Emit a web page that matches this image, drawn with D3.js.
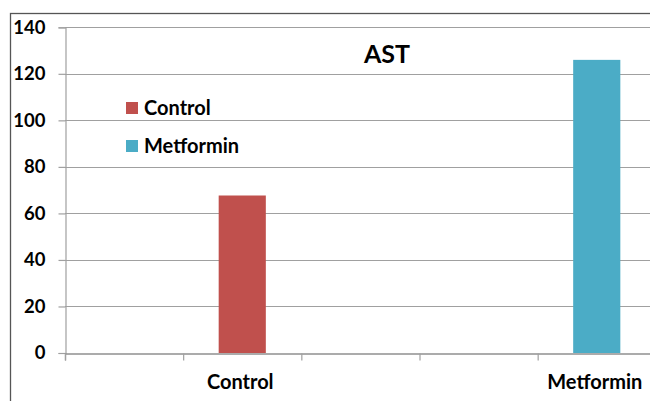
<!DOCTYPE html>
<html>
<head>
<meta charset="utf-8">
<script src="https://cdn.jsdelivr.net/npm/d3@7"></script>
<style>
  html, body { margin: 0; padding: 0; background: #fff; overflow: hidden; }
  svg { display: block; font-family: Lato, "Open Sans", sans-serif; font-weight: bold; }
</style>
</head>
<body>
<svg id="chart" width="650" height="401"></svg>
<script>
// AST levels per group
const categories = ["Control", "Metformin"];
const seriesNames = ["Control", "Metformin"];
const astValues = [67.7, 126];
const colors = ["#C0504D", "#4BACC6"];
const yTicks = [0, 20, 40, 60, 80, 100, 120, 140];
const chartTitle = "AST";

const svg = d3.select("#chart");

// outer chart frame (runs off the right and bottom edges)
svg.append("rect")
  .attr("x", 10.5).attr("y", 13.5)
  .attr("width", 700).attr("height", 420)
  .attr("fill", "none").attr("stroke", "#555").attr("stroke-width", 1.3);

const plot = { left: 65, right: 774, top: 27.3, bottom: 353 };

const x = d3.scaleBand().domain(categories).range([plot.left, plot.right]).padding(0);
const y = d3.scaleLinear().domain([0, 140]).range([plot.bottom, plot.top]);

// horizontal gridlines
svg.append("g")
  .selectAll("line")
  .data(yTicks.filter(d => d > 0))
  .join("line")
  .attr("x1", plot.left).attr("x2", plot.right)
  .attr("y1", d => Math.round(y(d)) + 0.5).attr("y2", d => Math.round(y(d)) + 0.5)
  .attr("stroke", "#a0a0a0").attr("stroke-width", 1.2);

// y axis
const yAxis = svg.append("g")
  .attr("transform", `translate(${plot.left + 0.5},0)`)
  .call(d3.axisLeft(y).tickValues(yTicks).tickSize(7).tickPadding(13).tickFormat(d3.format("d")));
yAxis.select(".domain").attr("stroke", "#a0a0a0").attr("stroke-width", 1.2);
yAxis.selectAll(".tick line").attr("stroke", "#a0a0a0").attr("stroke-width", 1.2);
yAxis.selectAll(".tick text")
  .attr("font-size", 18.5).attr("font-weight", "bold").attr("fill", "#000")
  .attr("font-family", "Lato, 'Open Sans', sans-serif");

// bars
const barW = x.bandwidth() * 0.133;
svg.append("g")
  .selectAll("rect")
  .data(categories.map((c, i) => ({ cat: c, value: astValues[i], color: colors[i] })))
  .join("rect")
  .attr("x", d => x(d.cat) + x.bandwidth() / 2 - barW / 2)
  .attr("y", d => y(d.value))
  .attr("width", barW)
  .attr("height", d => y(0) - y(d.value))
  .attr("fill", d => d.color);

// x axis with minor category-division ticks
const xTickScale = d3.scaleLinear().domain([0, 6]).range([plot.left, plot.right]);
const xAxis = svg.append("g")
  .attr("transform", `translate(0,${Math.round(plot.bottom) + 0.5})`)
  .call(d3.axisBottom(xTickScale).ticks(6).tickSize(7).tickFormat(""));
xAxis.select(".domain").attr("stroke", "#909090").attr("stroke-width", 1.3);
xAxis.selectAll(".tick line").attr("stroke", "#a0a0a0").attr("stroke-width", 1.2);

// category labels
svg.append("g")
  .selectAll("text")
  .data(categories)
  .join("text")
  .attr("x", d => x(d) + x.bandwidth() / 2 - 2)
  .attr("y", 389)
  .attr("text-anchor", "middle")
  .attr("font-size", 20)
  .attr("fill", "#000")
  .text(d => d);

// title
svg.append("text")
  .attr("x", 387).attr("y", 63)
  .attr("text-anchor", "middle")
  .attr("font-size", 25)
  .attr("fill", "#000")
  .text(chartTitle);

// legend
const legend = svg.append("g")
  .selectAll("g")
  .data(seriesNames)
  .join("g")
  .attr("transform", (d, i) => `translate(126,${102 + i * 38})`);
legend.append("rect")
  .attr("width", 12).attr("height", 12)
  .attr("fill", (d, i) => colors[i]);
legend.append("text")
  .attr("x", 18).attr("y", 13)
  .attr("font-size", 20)
  .attr("fill", "#000")
  .text(d => d);
</script>
</body>
</html>
